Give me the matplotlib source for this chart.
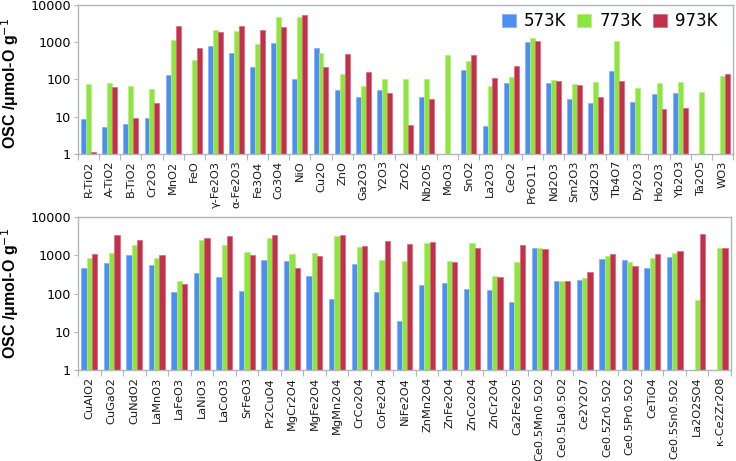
import numpy as np
import matplotlib
matplotlib.use("Agg")
import matplotlib.pyplot as plt
from matplotlib.patches import Patch

nan = np.nan

top_cats = ["R-TiO2", "A-TiO2", "B-TiO2", "Cr2O3", "MnO2", "FeO", "γ-Fe2O3", "α-Fe2O3",
            "Fe3O4", "Co3O4", "NiO", "Cu2O", "ZnO", "Ga2O3", "Y2O3", "ZrO2", "Nb2O5",
            "MoO3", "SnO2", "La2O3", "CeO2", "Pr6O11", "Nd2O3", "Sm2O3", "Gd2O3",
            "Tb4O7", "Dy2O3", "Ho2O3", "Yb2O3", "Ta2O5", "WO3"]
top_573 = [8.5, 5.1, 6.3, 9.4, 134, nan, 767, 520, 210, 960, 105, 690, 52, 32.5, 52, nan, 32.5,
           nan, 178, 5.5, 78, 1000, 78, 29, 23, 164, 24.7, 40, 42, nan, nan]
top_773 = [77, 81, 66, 56, 1150, 330, 2150, 2020, 906, 4900, 4690, 520, 142, 66, 100, 100, 100,
           440, 317, 65, 118, 1335, 98, 74, 83, 1065, 57.6, 80, 85, 45, 121]
top_973 = [1.1, 64, 8.9, 23, 2750, 710, 1900, 2750, 2150, 2640, 5530, 210, 470, 155, 44, 6.0, 29,
           nan, 440, 109, 228, 1090, 93, 69, 32.5, 90, nan, 15.5, 16.5, nan, 136]

bot_cats = ["CuAlO2", "CuGaO2", "CuNdO2", "LaMnO3", "LaFeO3", "LaNiO3", "LaCoO3", "SrFeO3",
            "Pr2CuO4", "MgCr2O4", "MgFe2O4", "MgMn2O4", "CrCo2O4", "CoFe2O4", "NiFe2O4",
            "ZnMn2O4", "ZnFe2O4", "ZnCo2O4", "ZnCr2O4", "Ca2Fe2O5", "Ce0.5Mn0.5O2",
            "Ce0.5La0.5O2", "Ce2Y2O7", "Ce0.5Zr0.5O2", "Ce0.5Pr0.5O2", "CeTiO4",
            "Ce0.5Sn0.5O2", "La2O2SO4", "κ-Ce2Zr2O8"]
bot_573 = [468, 620, 1048, 550, 112, 354, 277, 119, 744, 713, 284, 74, 596, 108, 19.6, 168, 186,
           132, 126, 61.5, 1560, 209, 222, 821, 760, 458, 890, nan, nan]
bot_773 = [857, 1133, 1910, 870, 214, 2580, 1870, 1206, 2890, 1066, 1133, 3290, 1660, 760, 700,
           2070, 713, 2110, 289, 660, 1560, 209, 261, 965, 660, 857, 1156, 67, 1530]
bot_973 = [1088, 3420, 2580, 1000, 174, 2890, 3220, 1024, 3420, 458, 960, 3420, 1762, 2430, 1950,
           2190, 660, 1590, 267, 1870, 1470, 218, 360, 1066, 517, 1066, 1277, 3550, 1530]

series_labels = ["573K", "773K", "973K"]
colors = ["#4d8ef2", "#8ee441", "#c2304b"]
edge = ["#7fb0f7", "#b4f07c", "#d9667a"]
spine_col = "#aeb7bf"

fig = plt.figure(figsize=(7.36, 4.61), dpi=100)
ax1 = fig.add_axes([78/736, 1-153.7/461, (733-78)/736, (153.7-5)/461])
ax2 = fig.add_axes([78/736, 1-370/461, (731-78)/736, (370-217.3)/461])


def draw(ax, cats, data, width_px, label_y):
    n = len(cats)
    x = np.arange(n)
    w = 0.235
    for k, (vals, c, e) in enumerate(zip(data, colors, edge)):
        ax.bar(x + (k-1)*w, np.array(vals, dtype=float), width=w, color=c,
               edgecolor=e, linewidth=0.5, bottom=0, label=series_labels[k])
    ax.set_yscale("log")
    ax.set_ylim(1, 10000)
    ax.set_xlim(-0.5, n-0.5)
    ax.set_yticks([1, 10, 100, 1000, 10000])
    ax.set_yticklabels(["1", "10", "100", "1000", "10000"], fontsize=9.2)
    ax.yaxis.set_minor_locator(matplotlib.ticker.NullLocator())
    ax.set_xticks(x)
    ax.set_xticklabels(cats, rotation=90, fontsize=8.2, color="#1a1a1a")
    ax.set_xticks(np.arange(n+1) - 0.5, minor=True)
    ax.tick_params(axis="x", which="major", length=0, pad=5)
    ax.tick_params(axis="x", which="minor", length=4, color=spine_col, width=0.8)
    ax.tick_params(axis="y", which="major", length=3, color=spine_col, pad=2)
    for s in ax.spines.values():
        s.set_color(spine_col)
        s.set_linewidth(1.0)
    ax.set_ylabel("OSC /μmol-O g$^{-1}$", fontsize=11.5, fontweight="bold",
                  family="Liberation Sans")
    ax.yaxis.set_label_coords((21-78)/width_px, label_y)


draw(ax1, top_cats, [top_573, top_773, top_973], 655, 0.47)
draw(ax2, bot_cats, [bot_573, bot_773, bot_973], 653, 0.5)

handles = [Patch(facecolor=c, edgecolor=e, linewidth=0.5) for c, e in zip(colors, edge)]
ax1.legend(handles, series_labels, loc="upper right", ncol=3, frameon=False,
           fontsize=12, handlelength=0.84, handleheight=0.84, handletextpad=0.48,
           columnspacing=0.66, bbox_to_anchor=(0.976, 0.95), borderaxespad=0,
           borderpad=0)

fig.savefig("out.png", dpi=100)
